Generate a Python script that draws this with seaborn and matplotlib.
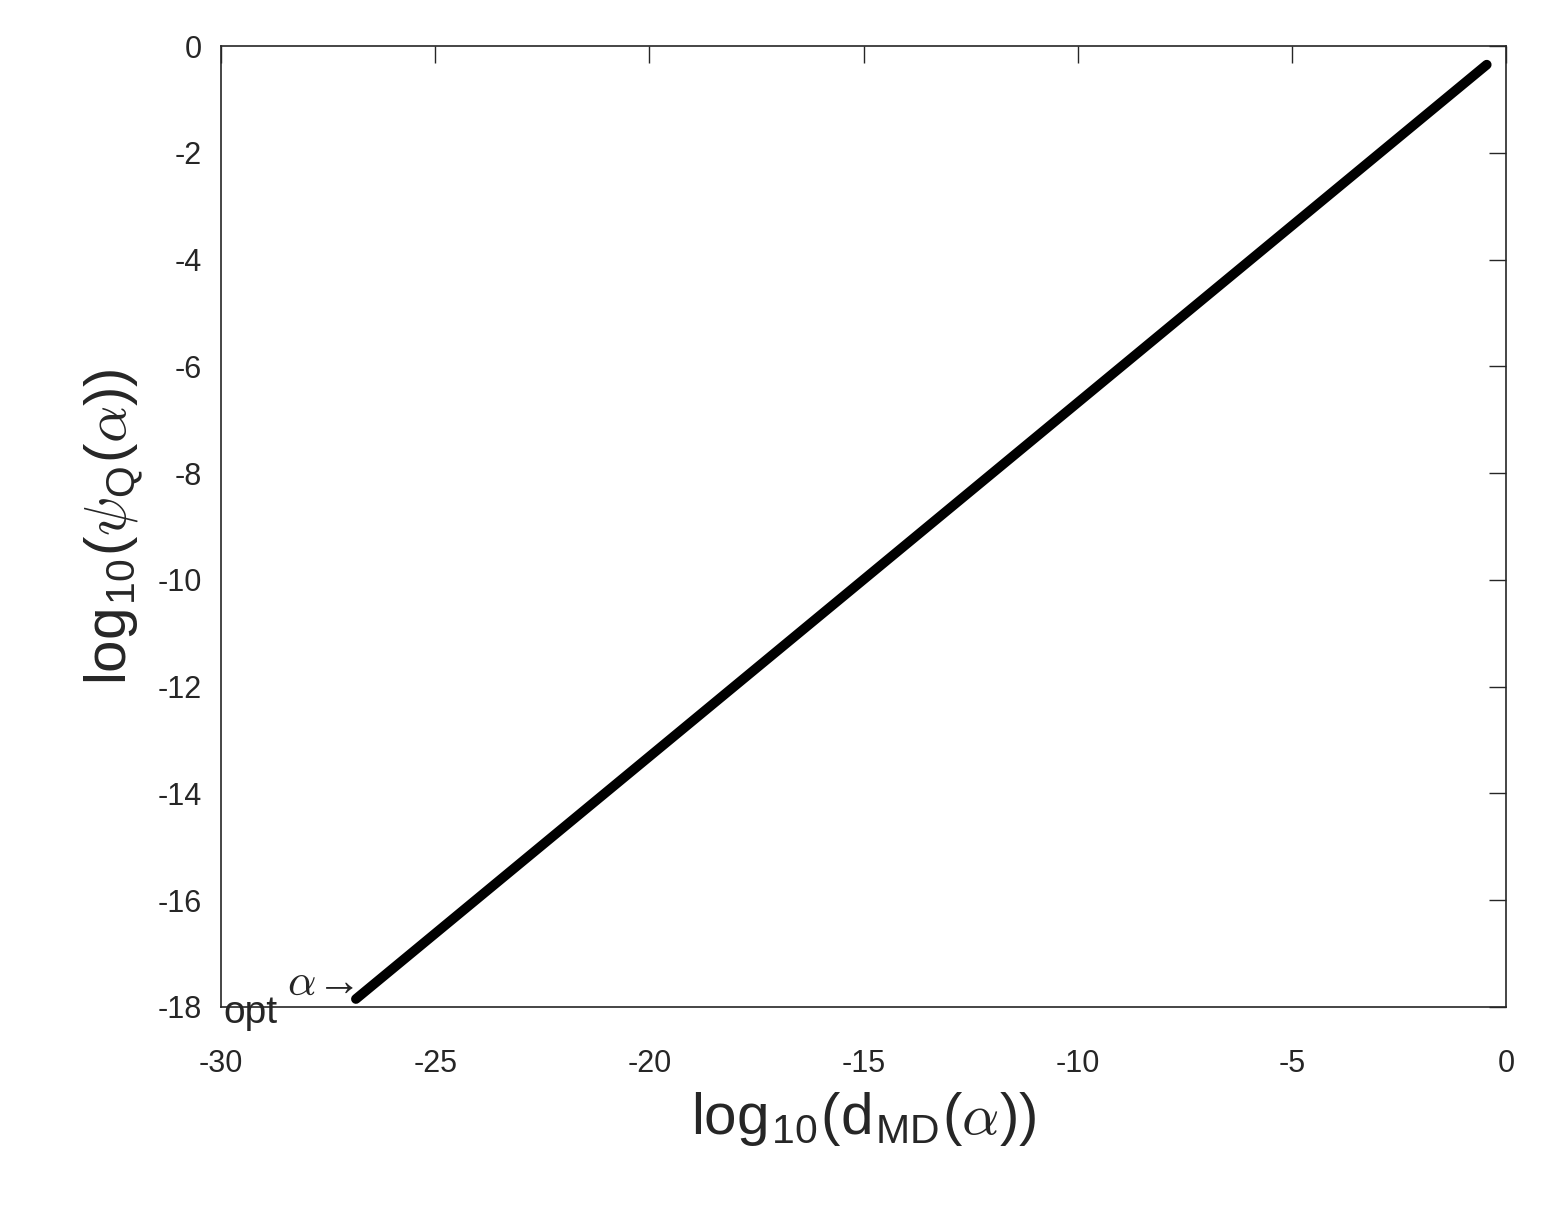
import matplotlib
matplotlib.use("Agg")
import matplotlib.pyplot as plt
import seaborn as sns
import pandas as pd

sns.set_theme(style="white")
plt.rcParams['font.family'] = ['Liberation Sans', 'DejaVu Sans']
plt.rcParams['axes.unicode_minus'] = False
plt.rcParams['mathtext.fontset'] = 'custom'
plt.rcParams['mathtext.rm'] = 'Liberation Sans'
plt.rcParams['mathtext.it'] = 'cmmi10'
plt.rcParams['mathtext.fallback'] = 'cm'

log_d = [-26.85, -0.45]
log_psi = [-17.85, -0.35]
df = pd.DataFrame({"x": log_d, "y": log_psi})

fig = plt.figure(figsize=(15.46, 12.08), dpi=100)
ax = fig.add_axes([221/1546, 1-1007/1208, 1285/1546, 961/1208])
sns.lineplot(data=df, x="x", y="y", ax=ax, color="black", linewidth=7)
ax.set_xlim(-30, 0)
ax.set_ylim(-18, 0)
ax.set_xticks(range(-30, 1, 5))
ax.set_yticks(range(-18, 1, 2))
ax.tick_params(axis="x", pad=30)
ax.tick_params(axis="y", pad=14)
ax.tick_params(direction="in", length=12, width=1, labelsize=22, colors="#262626",
               top=True, right=True)
for s in ax.spines.values():
    s.set_color("#262626"); s.set_linewidth(1.2)
ax.set_xlabel(r"log$_{\rm 10}$(d$_{\rm MD}$($\alpha$))", fontsize=42, labelpad=8)
ax.set_ylabel(r"log$_{\rm 10}$($\psi_{\rm Q}$($\alpha$))", fontsize=42, labelpad=8)
ax.text(-26.9, -17.55, r"$\alpha\!\rightarrow$", fontsize=32, ha="right", va="center", clip_on=False)
ax.text(-29.95, -18.12, "opt", fontsize=28, ha="left", va="center", clip_on=False)
fig.savefig("out.png", dpi=100)
